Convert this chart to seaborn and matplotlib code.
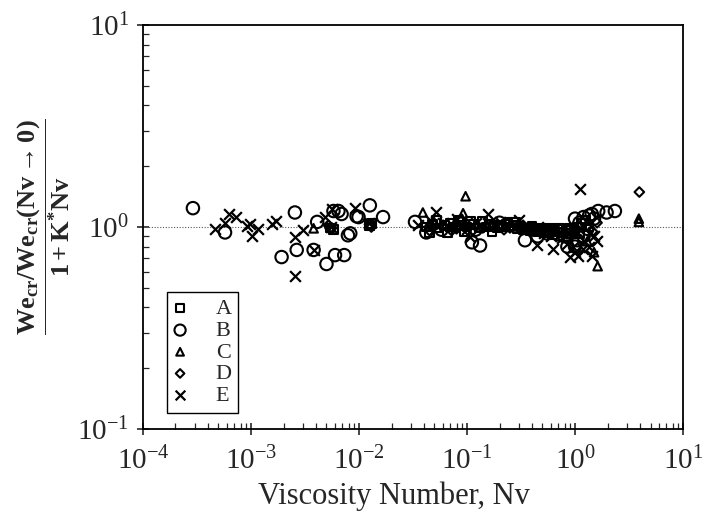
import numpy as np
import pandas as pd
import matplotlib
matplotlib.use("Agg")
import matplotlib.pyplot as plt
import seaborn as sns

# Series A (squares)
A_nv = [0.0054, 0.0058, 0.0125, 0.013, 0.042, 0.048, 0.055, 0.062, 0.07, 0.078,
        0.088, 0.1, 0.115, 0.13, 0.15, 0.16, 0.175, 0.19, 0.2, 0.215,
        0.23, 0.25, 0.27, 0.29, 0.31, 0.33, 0.36, 0.39, 0.42, 0.45,
        0.48, 0.52, 0.56, 0.6, 0.65, 0.7, 0.76, 0.83, 0.9, 0.98,
        1.05, 1.15, 1.25, 1.35, 0.045, 0.052, 0.066, 0.083, 0.095, 0.108,
        0.14, 0.17, 0.24, 0.28, 0.4, 0.5, 0.62, 0.72, 0.88, 1.1]
A_y = [0.99, 0.97, 1.02, 1.04, 1.0, 1.03, 0.99, 1.02, 1.04, 1.0,
       1.02, 1.0, 1.03, 0.99, 1.0, 1.03, 1.01, 0.99, 1.02, 1.0,
       1.03, 1.0, 1.02, 0.98, 1.0, 0.97, 0.99, 0.96, 0.98, 0.95,
       0.97, 0.94, 0.96, 0.98, 0.95, 0.97, 0.94, 0.96, 0.93, 0.97,
       1.0, 1.04, 1.08, 1.0, 0.94, 1.08, 0.94, 1.08, 0.95, 1.07,
       1.07, 0.95, 1.06, 1.05, 1.01, 0.99, 0.92, 0.99, 0.98, 0.93]

# Series B (circles)
B_nv = [2.9e-4, 5.75e-4, 1.92e-3, 2.55e-3, 2.65e-3, 3.8e-3, 4.1e-3, 5.0e-3, 5.8e-3, 6.45e-3,
        6.9e-3, 6.0e-3, 7.3e-3, 7.9e-3, 8.3e-3, 9.5e-3, 9.9e-3, 0.0126, 0.0167, 0.033,
        0.042, 0.058, 0.085, 0.111, 0.132, 0.12, 0.2, 0.344, 0.45, 0.55,
        0.7, 0.8, 0.9, 1.0, 1.05, 1.1, 1.2, 1.2, 1.3, 1.43,
        1.5, 1.64, 1.96, 2.34, 1.0, 1.35, 0.85]
B_y = [1.24, 0.94, 0.71, 1.18, 0.77, 0.77, 1.06, 0.656, 1.20, 1.20,
       1.16, 0.726, 0.726, 0.91, 0.93, 1.13, 1.12, 1.28, 1.12, 1.06,
       0.94, 0.97, 1.05, 0.84, 0.81, 0.97, 1.05, 0.86, 0.90, 0.93,
       0.92, 0.90, 0.95, 1.10, 0.86, 1.05, 1.12, 0.90, 0.98, 1.16,
       1.10, 1.20, 1.18, 1.20, 0.80, 1.14, 0.80]

# Series C (triangles)
C_nv = [3.8e-3, 0.0125, 0.039, 0.05, 0.07, 0.092, 0.097, 0.13, 0.2, 0.3,
        0.35, 0.6, 1.0, 1.3, 1.5, 1.62, 3.9, 3.9]
C_y = [0.985, 1.02, 1.18, 1.05, 1.0, 1.17, 1.42, 1.0, 1.02, 1.04,
       0.98, 0.95, 0.95, 0.85, 0.75, 0.64, 1.10, 1.06]

# Series D (diamonds)
D_nv = [3.94, 5.4e-3, 5.6e-3, 0.0125, 0.013, 0.045, 0.06, 0.08, 0.1, 0.14,
        0.18, 0.25, 0.4, 0.55, 0.8, 1.05, 1.3, 1.45, 1.6, 0.0052,
        0.05, 0.072, 0.12, 0.22, 0.33, 0.47, 0.65, 0.95]
D_y = [1.49, 0.985, 0.99, 1.03, 1.0, 0.96, 1.02, 0.98, 1.03, 0.99,
       1.02, 0.99, 0.97, 0.95, 0.93, 0.97, 1.02, 0.95, 1.05, 1.02,
       1.02, 0.96, 1.01, 0.97, 1.02, 0.96, 0.98, 0.92]

# Series E (crosses)
E_nv = [4.6e-4, 5.75e-4, 6.3e-4, 7.25e-4, 9.1e-4, 9.8e-4, 1.02e-3, 1.17e-3, 1.55e-3, 1.7e-3,
        2.55e-3, 2.55e-3, 3.05e-3, 3.8e-3, 4.84e-3, 5.6e-3, 9.2e-3, 0.052, 0.106, 0.158,
        1.11, 0.63, 0.44, 0.90, 1.07, 1.43, 1.18, 0.035, 0.045, 0.06,
        0.08, 0.1, 0.12, 0.2, 0.3, 0.45, 0.6, 0.75, 0.95, 1.0,
        1.2, 1.35, 1.5, 1.6, 0.85, 0.0125, 0.0055, 0.52]
E_y = [0.98, 1.05, 1.16, 1.12, 1.01, 1.03, 0.906, 0.98, 1.03, 1.07,
       0.89, 0.574, 0.97, 0.77, 1.12, 1.23, 1.24, 1.19, 0.89, 1.16,
       1.55, 0.78, 0.81, 0.71, 0.72, 0.72, 0.78, 1.02, 1.08, 1.05,
       1.1, 0.98, 1.05, 1.06, 1.08, 1.0, 0.9, 0.88, 0.8, 0.75,
       0.85, 0.8, 0.9, 0.85, 0.82, 1.05, 1.0, 0.93]

series = [
    ("A", A_nv, A_y, "s", 40),
    ("B", B_nv, B_y, "o", 80),
    ("C", C_nv, C_y, "^", 38),
    ("D", D_nv, D_y, "D", 24),
    ("E", E_nv, E_y, "x", 60),
]

sns.set_style("ticks")
plt.rcParams["font.family"] = ["Liberation Serif", "DejaVu Serif"]
plt.rcParams["mathtext.fontset"] = "custom"
plt.rcParams["mathtext.rm"] = "Liberation Serif"
plt.rcParams["mathtext.bf"] = "Liberation Serif:bold"
plt.rcParams["mathtext.it"] = "Liberation Serif:italic"
plt.rcParams["axes.unicode_minus"] = False

fig = plt.figure(figsize=(7.04, 5.19), dpi=100)
ax = fig.add_axes([0.2031, 0.1734, 0.7671, 0.7784])

ax.axhline(1.0, color="0.35", lw=0.8, ls=(0, (1, 1.5)), zorder=1)

for name, xs, ys, mk, sz in series:
    df = pd.DataFrame({"Nv": xs, "ratio": ys})
    if mk == "x":
        sns.scatterplot(data=df, x="Nv", y="ratio", marker=mk, s=sz, color="black",
                        linewidth=1.6, label=name, ax=ax, zorder=3)
    else:
        sns.scatterplot(data=df, x="Nv", y="ratio", marker=mk, s=sz, facecolor="none",
                        edgecolor="black", linewidth=1.5, label=name, ax=ax, zorder=3)

ax.set_xscale("log")
ax.set_yscale("log")
ax.set_xlim(1e-4, 1e1)
ax.set_ylim(1e-1, 1e1)

for sp in ax.spines.values():
    sp.set_linewidth(1.3)
    sp.set_color("black")

ax.tick_params(which="major", direction="inout", length=8, width=1.2, labelsize=21, pad=6)
ax.tick_params(axis="x", which="major", pad=9)
ax.tick_params(which="minor", direction="in", length=4, width=0.9)

ax.set_xlabel("Viscosity Number, Nv", fontsize=22)
ax.xaxis.set_label_coords(0.465, -0.13)
ax.set_ylabel(r"$\mathbf{\dfrac{We_{cr}/We_{cr}(Nv\rightarrow 0)}{1+K^{*}Nv}}$",
              fontsize=19, labelpad=4)

leg = ax.legend(loc="upper left", bbox_to_anchor=(0.044, 0.339), borderaxespad=0,
                fontsize=16, frameon=True, fancybox=False, framealpha=1,
                edgecolor="black", handlelength=0.6, handletextpad=1.3,
                borderpad=0.3, labelspacing=0.05, markerscale=0.9)
leg.get_frame().set_linewidth(1.0)

fig.savefig("out.png", dpi=100)
